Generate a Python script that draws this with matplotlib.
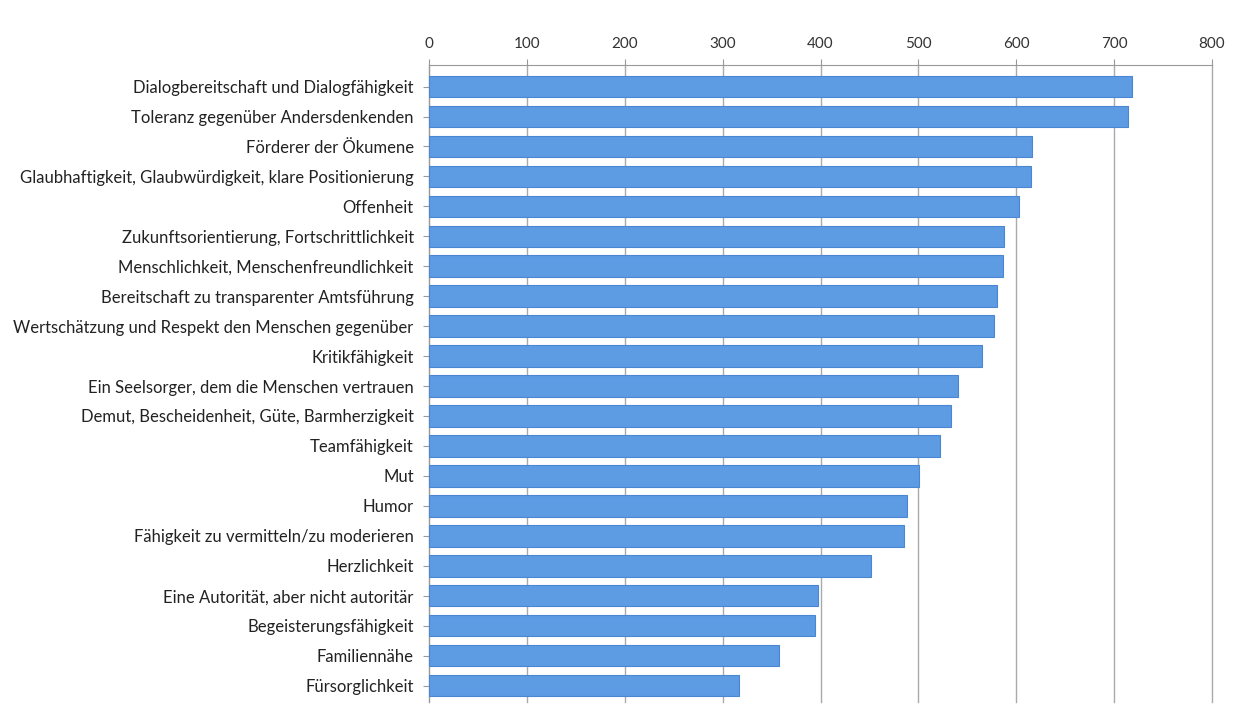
import numpy as np
import matplotlib
matplotlib.use("Agg")
import matplotlib.pyplot as plt

labels = [
    "Dialogbereitschaft und Dialogfähigkeit",
    "Toleranz gegenüber Andersdenkenden",
    "Förderer der Ökumene",
    "Glaubhaftigkeit, Glaubwürdigkeit, klare Positionierung",
    "Offenheit",
    "Zukunftsorientierung, Fortschrittlichkeit",
    "Menschlichkeit, Menschenfreundlichkeit",
    "Bereitschaft zu transparenter Amtsführung",
    "Wertschätzung und Respekt den Menschen gegenüber",
    "Kritikfähigkeit",
    "Ein Seelsorger, dem die Menschen vertrauen",
    "Demut, Bescheidenheit, Güte, Barmherzigkeit",
    "Teamfähigkeit",
    "Mut",
    "Humor",
    "Fähigkeit zu vermitteln/zu moderieren",
    "Herzlichkeit",
    "Eine Autorität, aber nicht autoritär",
    "Begeisterungsfähigkeit",
    "Familiennähe",
    "Fürsorglichkeit",
]
values = [718, 714, 616, 615, 603, 587, 586, 580, 577, 565, 540,
          533, 522, 501, 488, 485, 452, 397, 394, 358, 317]
xticks = [0, 100, 200, 300, 400, 500, 600, 700, 800]

plt.rcParams['font.family'] = ['Lato', 'DejaVu Sans']

fig = plt.figure(figsize=(12.4, 7.16), dpi=100)
ax = fig.add_axes([429 / 1240, 1 - 702 / 716, (1212 - 429) / 1240, (702 - 65) / 716])

y = np.arange(len(labels))
ax.barh(y, values, height=0.72, color="#5D9BE3", edgecolor="#4A86D2", linewidth=0.8, zorder=3)

ax.set_xlim(0, 800)
ax.set_ylim(len(labels) - 0.45, -0.72)
ax.set_xticks(xticks)
ax.xaxis.tick_top()
ax.tick_params(axis="x", labelsize=11, colors="#333333", length=4, color="#999999", pad=6)
ax.set_yticks(y)
ax.set_yticklabels(labels, fontsize=12, color="#222222")
ax.tick_params(axis="y", length=4, color="#999999", pad=7)
ax.grid(axis="x", color="#aaaaaa", linewidth=1.0, zorder=0, clip_on=False)
for side in ["right", "bottom"]:
    ax.spines[side].set_visible(False)
ax.spines["top"].set_color("#999999")
ax.spines["left"].set_color("#999999")

fig.savefig("out.png", dpi=100)
